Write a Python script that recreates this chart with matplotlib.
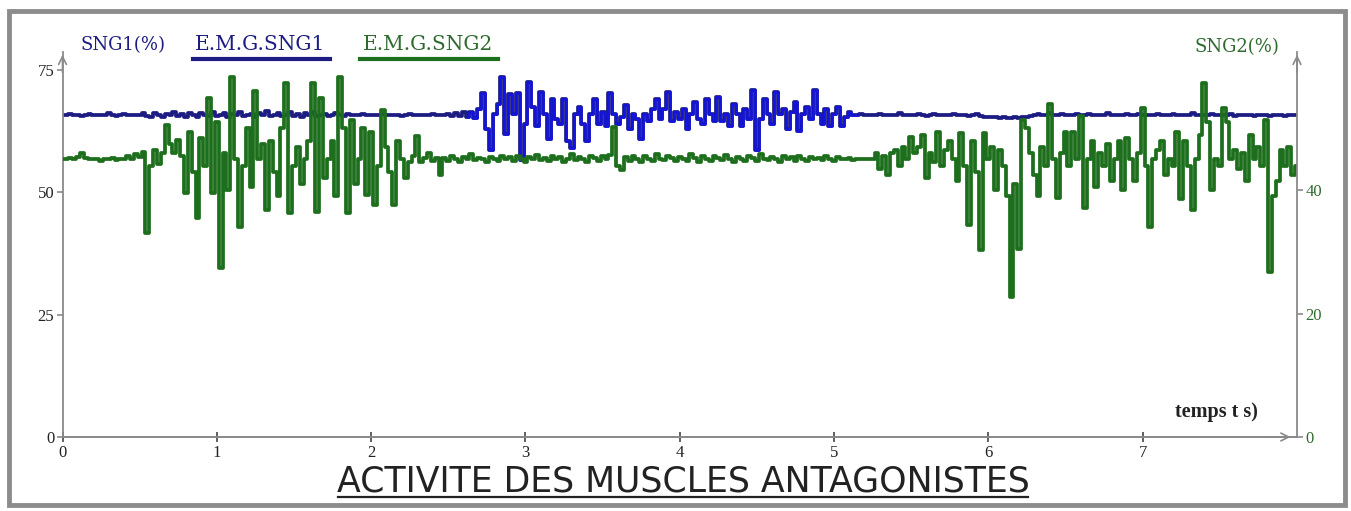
import numpy as np
import matplotlib
matplotlib.use("Agg")
import matplotlib.pyplot as plt
from matplotlib.patches import Rectangle
from matplotlib.lines import Line2D

W, H = 1351, 511
PAS = 0.025  # pas d'echantillonnage (s)

# E.M.G. SNG1 (echelle de gauche, %)
sng1_repos_debut = [
    65.8, 65.8, 66, 65.8, 65.9, 65.7, 65.8, 66.1, 65.8, 65.8,
    65.9, 65.8, 66.2, 65.8, 65.7, 65.8, 66, 65.8, 65.8, 65.9,
    65.8, 66.3, 65.7, 65.5, 66.2, 65.9, 65.4, 66.1, 65.8, 66.4,
    65.6, 66, 65.5, 66.3, 65.8, 65.4, 66.2, 65.9, 65.6, 66.5,
    65.7, 65.9, 66.3, 65.5, 66, 65.8, 66.4, 65.6, 65.9, 66.1,
    65.5, 66.2, 65.8, 66.6, 65.7, 65.9, 66.3, 65.6, 65.8, 66.5,
    65.7, 66, 65.5, 66.2, 65.9, 66.4, 65.6, 65.8, 66, 65.7,
    65.9, 66.3, 65.8, 65.7, 66, 65.8, 65.9, 65.8, 66.1, 65.8,
    65.8, 65.9, 65.8, 66, 65.8, 65.8, 65.9, 65.8, 65.7, 65.8,
    66, 65.8, 65.8, 65.9, 65.8, 65.8, 66.1, 65.8, 65.9, 65.8,
    66, 65.7, 66.3, 65.6, 66.4, 65.5]
sng1_actif = [
    66.5, 65.2, 67, 70.3, 63, 58.7, 66, 68, 73.6, 62,
    70, 66, 70.3, 56.6, 64, 72.5, 67.5, 63.5, 70.5, 66,
    61, 69, 65, 64, 69, 60.5, 59, 66, 67.5, 64,
    60.5, 66, 69, 64, 66.5, 63.5, 70.3, 66, 64, 65.5,
    67.8, 63, 66, 65, 61, 66, 64.5, 67, 69, 65,
    67, 70.5, 64.5, 66.5, 65, 67, 63, 66, 68.5, 65,
    64, 69, 66, 64.5, 69.5, 64.5, 66, 63.5, 68, 66,
    63.5, 67, 65, 71, 58.7, 65, 69, 66, 64, 70.5,
    66, 67, 63, 66.5, 68.5, 62.5, 66, 67.5, 65, 71,
    66, 64, 67, 63.5, 66, 67.5, 63.5, 65.5, 66.5, 65.8]
sng1_repos_fin = [
    65.8, 66, 65.8, 65.9, 65.8, 65.8, 66.1, 65.8, 65.8, 65.9,
    65.8, 66.2, 65.8, 65.8, 65.9, 65.8, 66, 65.8, 65.7, 65.8,
    66, 65.8, 65.8, 65.9, 65.8, 66.1, 65.8, 65.8, 65.9, 65.7,
    65.8, 66, 65.6, 65.5, 65.4, 65.5, 65.3, 65.2, 65.3, 65.1,
    65.2, 65.3, 65.1, 65.4, 65.5, 65.6, 65.8, 66, 65.8, 65.9,
    66.3, 65.8, 65.8, 66, 65.8, 65.9, 65.8, 66.1, 65.8, 65.8,
    66, 65.8, 65.9, 65.8, 65.8, 66.2, 65.8, 65.8, 65.9, 65.8,
    66, 65.8, 65.8, 66.1, 65.8, 65.9, 65.8, 65.8, 66, 65.8,
    65.9, 65.8, 66.1, 65.8, 65.8, 65.9, 65.8, 66.2, 65.8, 65.8,
    65.9, 65.8, 66, 65.8, 65.8, 65.9, 65.8, 66.1, 65.7, 65.8,
    65.8, 65.9, 65.8, 65.6, 65.8, 65.9, 65.8, 65.7, 65.8, 65.9,
    65.8, 65.7, 65.8, 65.9, 65.8]

# E.M.G. SNG2 (echelle de droite, %)
sng2_repos_debut = [
    45, 45, 45.2, 45, 45.3, 46, 45.2, 45, 45, 45.1, 44.8,
    45, 45, 45.2, 44.9, 45, 45.1, 45.6, 45, 45.8, 45.3, 46.2]
sng2_actif_1 = [
    33, 44, 46.5, 44.2, 46, 50.6, 47.5, 46, 48.2, 45.5,
    39.5, 49.4, 43, 35.5, 48.5, 44, 55, 39.5, 51, 27.4,
    46, 40, 58.3, 45, 34, 44, 50, 40.5, 56, 45,
    47.5, 36.8, 48, 43, 39, 50, 57.4, 36.3, 44, 47,
    41, 45, 48, 57.4, 36.5, 55, 42, 45, 48, 39,
    58.3, 50, 36.3, 51.4, 41, 45, 50, 39.2, 49.4, 37.6,
    44, 53, 47, 43, 37.6, 48, 45, 42, 44.5, 45.5,
    48.8, 44.5, 45.2, 46, 44.8, 45.2, 42.5]
sng2_repos_milieu = [
    45.2, 44.8, 45.5, 45, 44.6, 45.3, 45, 45.8, 44.9, 45.2,
    45, 44.5, 45.4, 45.1, 44.7, 45.6, 45, 45.3, 44.8, 45.5,
    45.1, 44.6, 45.4, 45, 45.7, 44.9, 45.2, 44.7, 45.5, 45,
    45.3, 44.5, 45.1, 45.8, 44.9, 45.4, 45, 44.6, 45.6, 45.2,
    44.8, 45.5, 45, 45.7, 50.2, 44, 43.2, 45.3, 44.8, 45.6,
    45, 44.6, 45.5, 45.1, 44.7, 45.8, 45, 44.9, 45.6, 45.2,
    44.7, 45.4, 45.1, 44.8, 45.9, 45.2, 44.6, 45.5, 45, 44.7,
    45.6, 45.2, 44.9, 45.7, 45, 44.6, 45.4, 45.1, 44.8, 45.5,
    45.2, 44.7, 45.8, 45, 44.9, 45.4, 45.1, 44.6, 45.5, 45,
    45.3, 44.8, 45.6, 45.1, 44.7, 45.4, 45, 45.2, 44.9, 45.5,
    45.1, 44.8, 45.3, 45, 45, 45.2, 44.9, 45, 45.1, 45, 45]
sng2_actif_2 = [
    45, 46, 43.5, 45.5, 42.5, 46, 46.5, 44, 47, 45,
    48.6, 46, 47, 49, 42, 46, 44.5, 49.4, 44, 46.5,
    48, 45, 41.5, 49.2, 44, 34.4, 48, 43, 30.3, 49.2,
    45, 47, 40, 46.5, 44, 39, 22.7, 41, 30.5, 51.4,
    50, 46, 42.5, 39, 47, 44, 54, 45, 38.7, 46,
    49.5, 44, 49.5, 45, 52, 37.1, 45, 48, 40.5, 46,
    44, 47.5, 41.5, 45, 48, 40, 48.5, 45, 41.5, 46,
    53.3, 44, 34, 45, 46.5, 48, 42.5, 45, 44, 49.5,
    38.5, 48, 44, 36.8, 45, 49, 57.4, 51, 40, 45,
    44, 53.3, 51, 45, 46.5, 43.5, 46, 41.5, 49, 45,
    47, 44, 51.4, 26.7, 39, 41.5, 46.5, 44, 47, 42.5, 44]

graduations_x = [0, 1, 2, 3, 4, 5, 6, 7]
graduations_sng1 = [0, 25, 50, 75]
graduations_sng2 = [0, 20, 40]

sng1 = np.array(sng1_repos_debut + sng1_actif + sng1_repos_fin)
sng2 = np.array(sng2_repos_debut + sng2_actif_1 + sng2_repos_milieu + sng2_actif_2)
t1 = np.arange(len(sng1)) * PAS
t2 = np.arange(len(sng2)) * PAS
debut_actif = len(sng1_repos_debut) - 1
fin_actif = len(sng1_repos_debut) + len(sng1_actif) + 1

GRIS = "#8a8a8a"
BLEU_FONCE = "#1c1c82"
BLEU = "#1414e0"
VERT = "#1d6e1d"
VERT_TXT = "#2f6a2f"

fig = plt.figure(figsize=(W / 100, H / 100), dpi=100)
fig.patch.set_facecolor("white")

x0, x1, y0, y1 = 62.5, 1297, 437, 52
ax = fig.add_axes([x0 / W, 1 - y0 / H, (x1 - x0) / W, (y0 - y1) / H])
ax.set_xlim(0, 8)
ax.set_ylim(0, (y0 - y1) / 4.893)
ax2 = ax.twinx()
ax2.set_ylim(0, (y0 - y1) / 6.17)

ax.plot(t1, sng1, drawstyle="steps-mid", color=BLEU_FONCE, lw=2.7)
ax.plot(t1[debut_actif:fin_actif], sng1[debut_actif:fin_actif], drawstyle="steps-mid",
        color=BLEU, lw=1.8)
ax2.plot(t2, sng2, drawstyle="steps-mid", color=VERT, lw=2.7)

for a in (ax, ax2):
    a.spines["top"].set_visible(False)
    for s in a.spines.values():
        s.set_color(GRIS)
        s.set_linewidth(1.3)
ax.spines["right"].set_visible(False)
ax2.spines["left"].set_visible(False)

police = {"family": "Liberation Serif", "size": 12}
ax.set_xticks(graduations_x)
ax.set_xticklabels([str(v) for v in graduations_x], fontdict=police, color="#222222")
ax.set_yticks(graduations_sng1)
ax.set_yticklabels([str(v) for v in graduations_sng1], fontdict=police, color="#222222")
ax2.set_yticks(graduations_sng2)
ax2.set_yticklabels([str(v) for v in graduations_sng2], fontdict=police, color=VERT_TXT)
ax.tick_params(axis="x", direction="inout", length=7, width=1.2, color="#444444", pad=2)
ax.tick_params(axis="y", direction="out", length=4, width=1.2, color=GRIS, pad=2)
ax2.tick_params(axis="y", direction="out", length=4, width=1.2, color=GRIS, pad=2)

# fleches des axes
fleche = dict(arrowstyle="->", color=GRIS, lw=1.2, mutation_scale=14)
ax.annotate("", xy=(0, 1.0), xycoords="axes fraction", xytext=(0, 0.94),
            arrowprops=fleche, annotation_clip=False)
ax.annotate("", xy=(1, 1.0), xycoords="axes fraction", xytext=(1, 0.94),
            arrowprops=fleche, annotation_clip=False)
ax.annotate("", xy=(0.997, 0), xycoords="axes fraction", xytext=(0.975, 0),
            arrowprops=fleche, annotation_clip=False)

# legendes
serif = "DejaVu Serif"
fig.text(80 / W, 1 - 45 / H, "SNG1(%)", family=serif, size=13, color=BLEU_FONCE, va="center")
fig.text(195 / W, 1 - 45 / H, "E.M.G.SNG1", family=serif, size=14.5, color=BLEU_FONCE, va="center")
fig.text(363 / W, 1 - 45 / H, "E.M.G.SNG2", family=serif, size=14.5, color=VERT_TXT, va="center")
fig.text(1195 / W, 1 - 47 / H, "SNG2(%)", family=serif, size=13, color=VERT_TXT, va="center")
fig.add_artist(Line2D([193 / W, 330 / W], [1 - 59 / H] * 2, color=BLEU_FONCE, lw=3))
fig.add_artist(Line2D([360 / W, 498 / W], [1 - 59 / H] * 2, color=VERT, lw=3))
fig.text(1175 / W, 1 - 412 / H, "temps t s)", family="Liberation Serif", size=14.5,
         weight="bold", color="#222222", va="center")

# titre souligne
fig.text(683 / W, 1 - 481 / H, "ACTIVITE DES MUSCLES ANTAGONISTES", family="DejaVu Sans",
         size=25, color="#222222", ha="center", va="center")
fig.add_artist(Line2D([338 / W, 1028 / W], [1 - 497 / H] * 2, color="#222222", lw=1.6))

# cadre gris
fig.patches.append(Rectangle((9 / W, 6 / H), 1336 / W, 494 / H, transform=fig.transFigure,
                             fill=False, edgecolor="#8c8c8c", lw=3.5))

fig.savefig("out.png", dpi=100)
